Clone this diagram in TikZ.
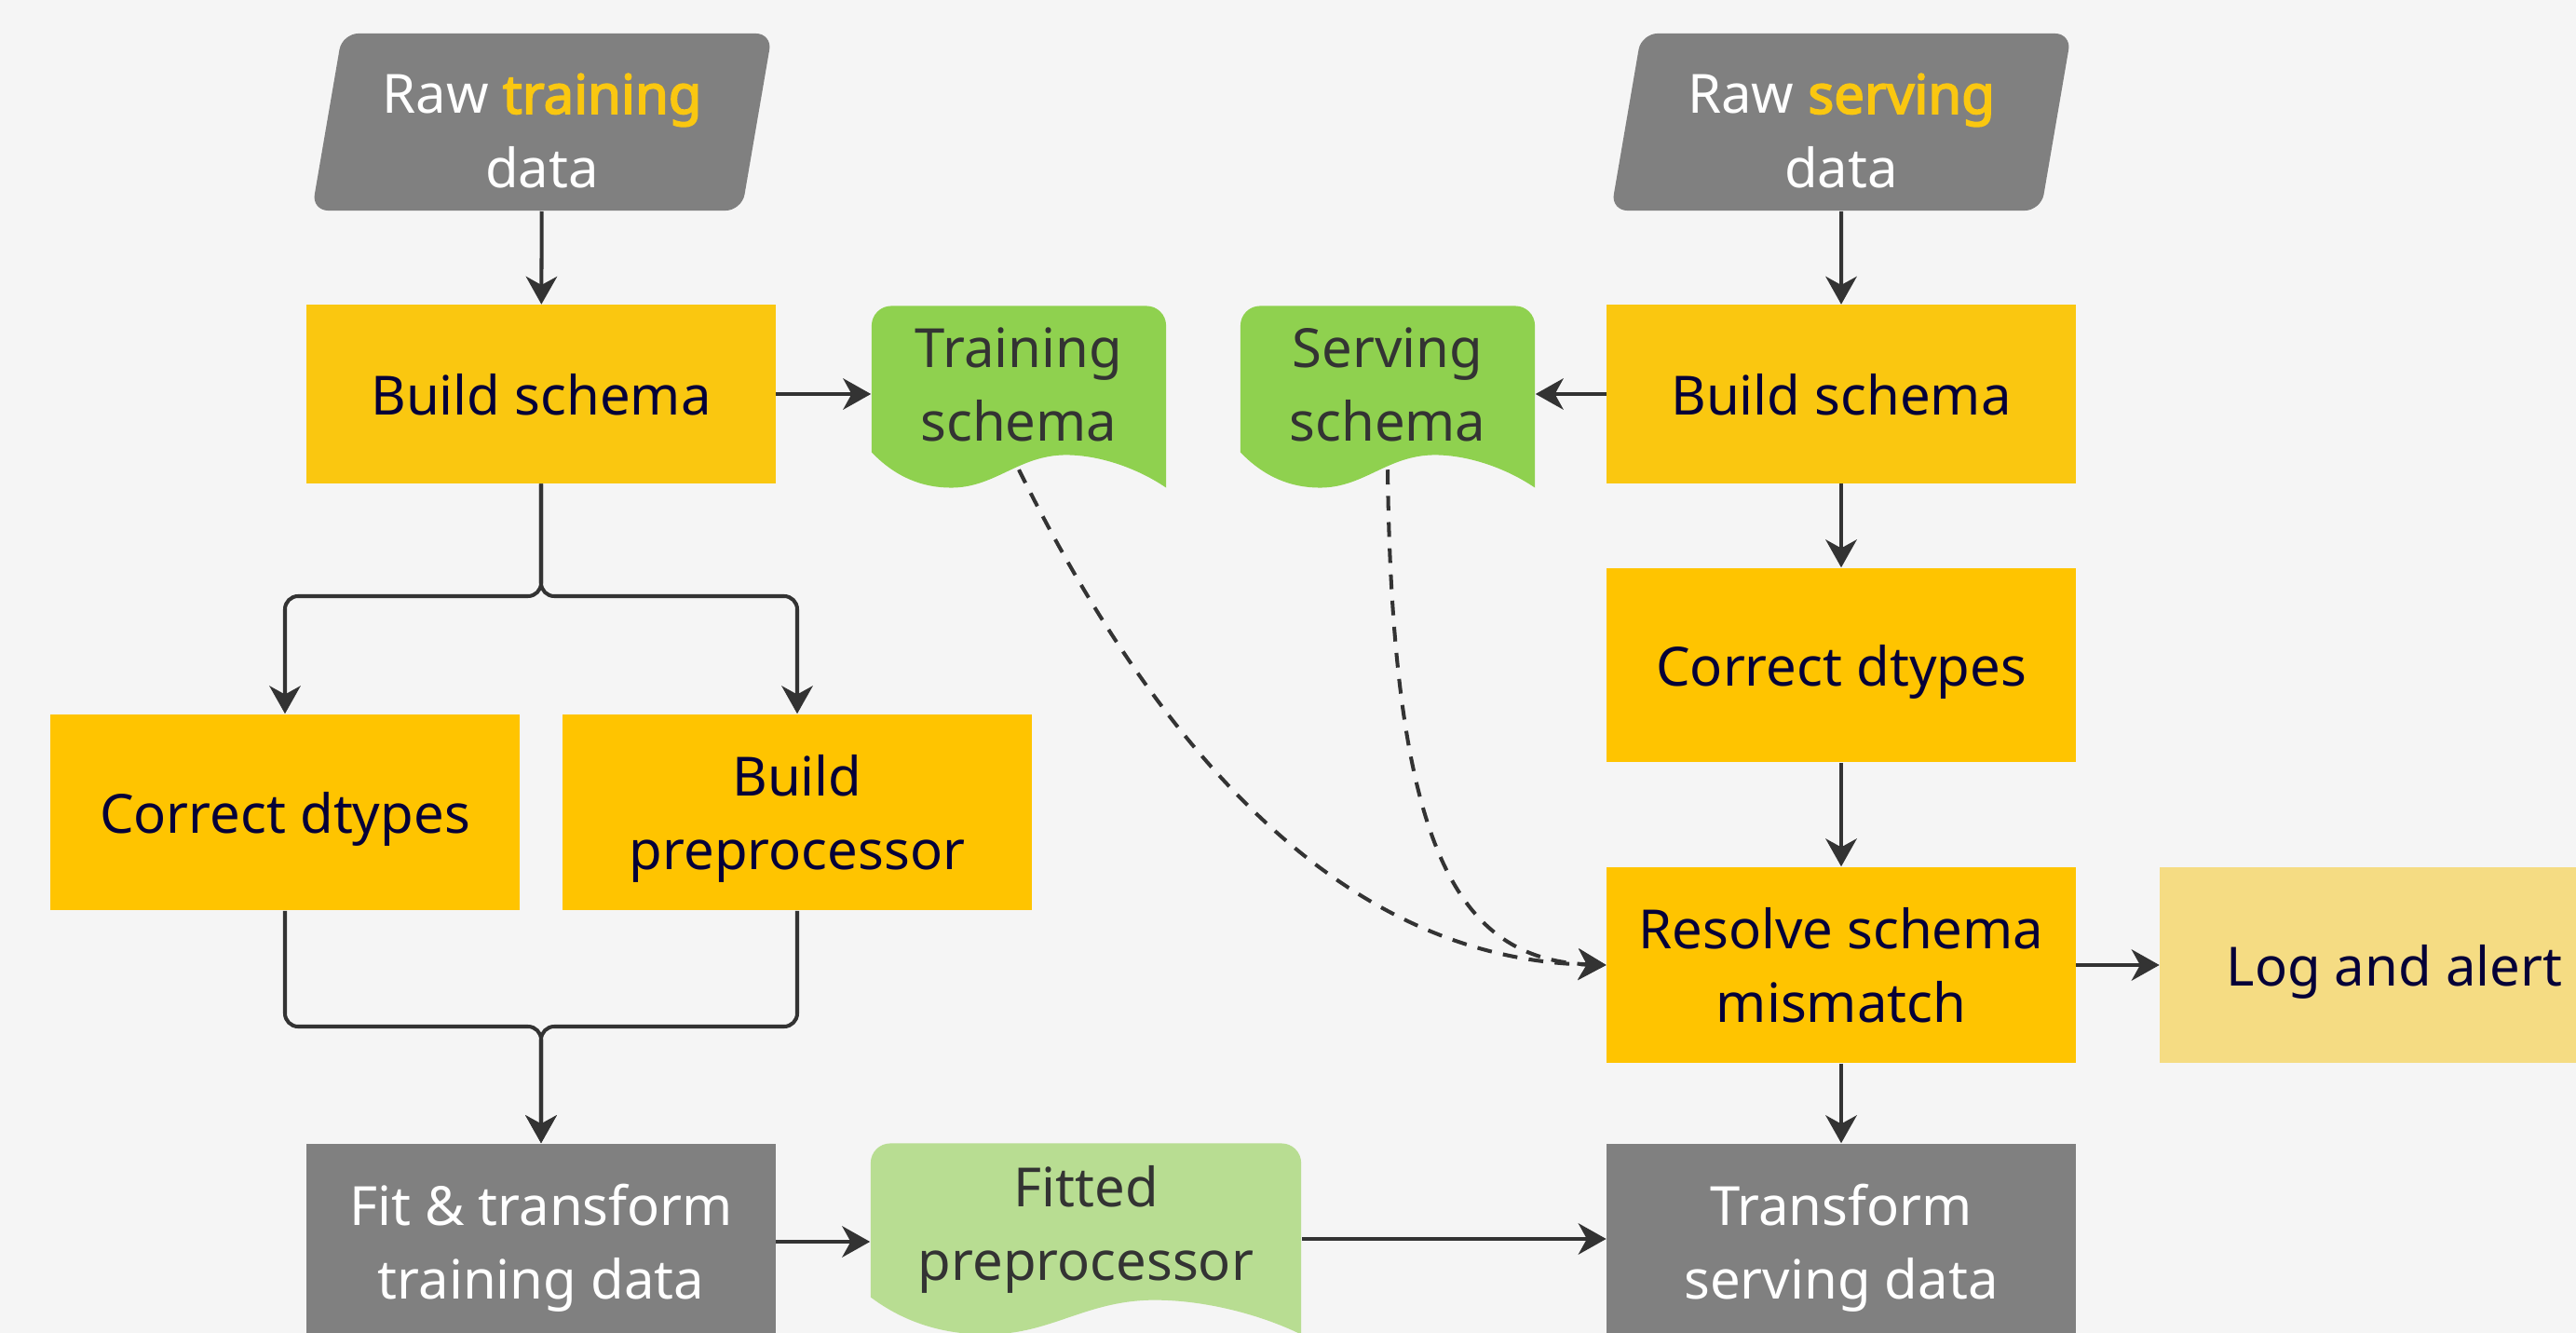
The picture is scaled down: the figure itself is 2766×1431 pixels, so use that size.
\documentclass[tikz,border=0pt]{standalone}
\usepackage{fontspec}
\setmainfont{Noto Sans}[AutoFakeBold=3]
\usetikzlibrary{arrows.meta,shapes.geometric,calc}
\definecolor{bgGray}{HTML}{F5F5F5}
\definecolor{schemaYel}{HTML}{FAC710}
\definecolor{stepYel}{HTML}{FFC400}
\definecolor{rawYel}{HTML}{FAC710}
\definecolor{dataGray}{HTML}{808080}
\definecolor{docGreen}{HTML}{8FD14F}
\definecolor{docLight}{HTML}{B8DD92}
\definecolor{alertYel}{HTML}{F5DC83}
\definecolor{inkNavy}{HTML}{050038}
\definecolor{lineDark}{HTML}{333333}
\newcommand\diagfont{\fontsize{16.5}{22.5}\selectfont}
\tikzset{
  proc_box/.style={rectangle, inner sep=0pt, align=center, text=inkNavy, font=\diagfont,
    text depth=0pt, minimum width=5.03cm, minimum height=2.1cm},
  data_in/.style ={trapezium, trapezium left angle=77, trapezium right angle=103,
    trapezium stretches body, rounded corners=5pt, fill=dataGray, text=white,
    inner sep=0pt, align=center, font=\diagfont, minimum width=4.94cm, minimum height=1.9cm},
  doc_out/.style ={rectangle, inner sep=0pt, align=center, text=lineDark, font=\diagfont,
    text depth=7.5pt,
    path picture={
      \fill[#1] let \p1=(path picture bounding box.north west),
                    \p2=(path picture bounding box.south east),
                    \n1={\x2-\x1}, \n2={\y1-\y2} in
        (\x1,\y2+0.195*\n2) -- (\x1,\y1-6pt) arc[start angle=180, end angle=90, radius=6pt]
        -- (\x2-6pt,\y1) arc[start angle=90, end angle=0, radius=6pt]
        -- (\x2,\y2)
        .. controls (\x2-0.09*\n1,\y2+0.1*\n2) and (\x1+0.78*\n1,\y2+0.18*\n2) .. (\x1+0.66*\n1,\y2+0.18*\n2)
        .. controls (\x1+0.5*\n1,\y2+0.18*\n2) and (\x1+0.42*\n1,\y2) .. (\x1+0.27*\n1,\y2)
        .. controls (\x1+0.17*\n1,\y2) and (\x1+0.08*\n1,\y2+0.06*\n2) .. cycle;
    }},
  conn/.style    ={draw=lineDark, line width=1.15pt, -{Stealth[length=8.5pt, width=9.5pt, inset=2.6pt]}},
  dash_conn/.style={conn, dash pattern=on 4.5pt off 3.5pt}}

\begin{document}
\begin{tikzpicture}[x=0.01cm, y=0.01cm]
\useasboundingbox (0,0) rectangle (2766,-1431);
\fill[bgGray] (0,0) rectangle (2766,-1431);

% training side
\node[data_in] (rawtrain) at (582,-131) {\rule{0pt}{17.5pt}Raw \textbf{\color{rawYel}training}\\data};
\node[proc_box, fill=schemaYel, minimum height=1.91cm] (schematrain) at (581,-423) {Build schema};
\node[doc_out=docGreen, minimum width=3.16cm, minimum height=1.95cm] (trainschema) at (1094,-426) {Training\\schema};
\node[proc_box, fill=stepYel] (dtypetrain) at (306,-872) {Correct dtypes};
\node[proc_box, fill=stepYel] (preproc) at (856,-872) {Build\\preprocessor};
\node[proc_box, fill=dataGray, text=white] (fittrain) at (581,-1333) {Fit \& transform\\training data};
\node[doc_out=docLight, minimum width=4.62cm, minimum height=2.05cm, text depth=9.5pt] (fitted) at (1166,-1330) {Fitted\\preprocessor};

% serving side
\node[data_in] (rawserve) at (1977,-131) {\rule{0pt}{17.5pt}Raw \textbf{\color{rawYel}serving}\\data};
\node[proc_box, fill=schemaYel, minimum height=1.91cm] (schemaserve) at (1977,-423) {Build schema};
\node[doc_out=docGreen, minimum width=3.16cm, minimum height=1.95cm] (serveschema) at (1490,-426) {Serving\\schema};
\node[proc_box, fill=stepYel, minimum height=2.08cm] (dtypeserve) at (1977,-714) {Correct dtypes};
\node[proc_box, fill=stepYel] (resolve) at (1977,-1036) {Resolve schema\\mismatch};
\node[proc_box, fill=alertYel] (logalert) at (2571,-1036) {Log and alert};
\node[proc_box, fill=dataGray, text=white] (transserve) at (1977,-1333) {Transform\\serving data};

\coordinate (split) at (581,-640);
\coordinate (merge) at (581,-1102);

\path[every edge/.append style={conn}]
  % straight arrows
  (rawtrain) edge (schematrain)
  (schematrain.east) edge (schematrain.east -| trainschema.west)
  (rawserve) edge (schemaserve)
  (schemaserve.west) edge (schemaserve.west -| serveschema.east)
  (schemaserve) edge (dtypeserve)
  (dtypeserve) edge (resolve)
  (resolve) edge (transserve)
  (resolve) edge (logalert)
  (fittrain.east) edge (fittrain.east -| fitted.west)
  (fitted.east) edge (fitted.east -| transserve.west);

% split and merge
\draw[conn, rounded corners=4pt] (schematrain.south) -- (split) -| (dtypetrain.north);
\draw[conn, rounded corners=4pt] (schematrain.south) -- (split) -| (preproc.north);
\draw[conn, rounded corners=4pt] (dtypetrain.south) |- (merge) -- (fittrain.north);
\draw[conn, rounded corners=4pt] (preproc.south) |- (merge) -- (fittrain.north);

% schema checks
\draw[dash_conn] ([yshift=0.2cm]trainschema.south) .. controls +(156,-315) and +(-275,6) .. (resolve.west);
\draw[dash_conn] ([yshift=0.2cm]serveschema.south) .. controls +(5,-395) and +(-165,6) .. (resolve.west);
\end{tikzpicture}
\end{document}
